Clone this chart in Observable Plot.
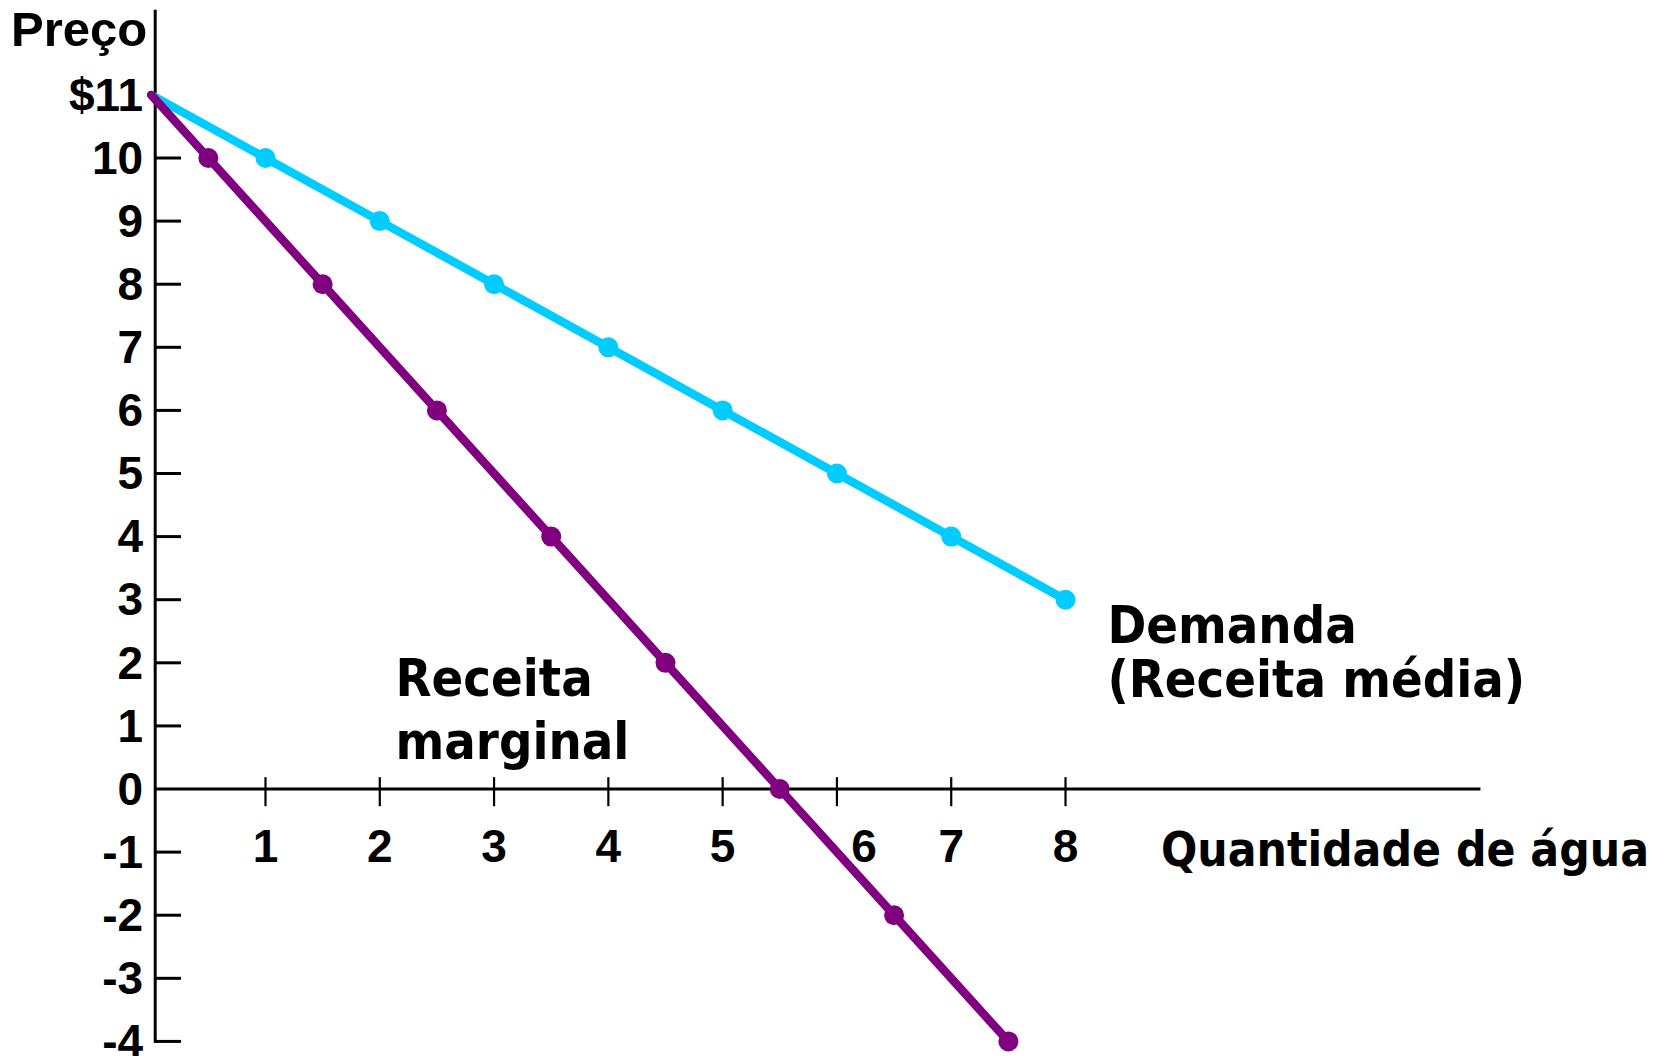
<!DOCTYPE html>
<html>
<head>
<meta charset="utf-8">
<script src="https://cdn.jsdelivr.net/npm/d3@7"></script>
<script src="https://cdn.jsdelivr.net/npm/@observablehq/plot@0.6"></script>
<style>
  html, body { margin: 0; padding: 0; background: #fff; }
  #chart svg { display: block; }
  g.condensed { font-stretch: 87.5%; }
</style>
</head>
<body>
<div id="chart"></div>
<script>
// ---- Data ----
const demandQ = [0, 1, 2, 3, 4, 5, 6, 7, 8];
const demandP = [11, 10, 9, 8, 7, 6, 5, 4, 3];
const mrQ = [0, 0.5, 1.5, 2.5, 3.5, 4.5, 5.5, 6.5, 7.5];
const mrP = [11, 10, 8, 6, 4, 2, 0, -2, -4];
const xTicks = [1, 2, 3, 4, 5, 6, 7, 8];
const yTicks = [11, 10, 9, 8, 7, 6, 5, 4, 3, 2, 1, 0, -1, -2, -3, -4];
const yTickLabels = ["$11", "10", "9", "8", "7", "6", "5", "4", "3", "2", "1", "0", "-1", "-2", "-3", "-4"];
const yAxisTitle = "Preço";
const xAxisTitle = "Quantidade de água";
const demandLabel = "Demanda\n(Receita média)";
const mrLabel = "Receita\nmarginal";

const demand = demandQ.map((q, i) => ({q, p: demandP[i]}));
const mr = mrQ.map((q, i) => ({q, p: mrP[i]}));
const yTickData = yTicks.map((v, i) => ({v, label: yTickLabels[i]}));

const CYAN = "#00CCFF";
const PURPLE = "#800080";
const ARIAL = "'Liberation Sans', Arial, sans-serif";
const TAHOMA = "'DejaVu Sans Condensed', 'DejaVu Sans', sans-serif";

const xLabelStyle = {textAnchor: "middle", lineAnchor: "bottom", dy: 73,
  fontFamily: ARIAL, fontWeight: "bold", fontSize: 46, fill: "black"};

const chart = Plot.plot({
  width: 1664,
  height: 1056,
  margin: 0,
  x: {domain: [-1.3186, 13.241], axis: null},
  y: {domain: [-4.239, 12.496], axis: null},
  marks: [
    // axes
    Plot.ruleX([0], {y1: -4.03, y2: 12.34, dx: 4, stroke: "black", strokeWidth: 3}),
    Plot.ruleY([0], {x1: 0, x2: 11.6, dx: 4, stroke: "black", strokeWidth: 3}),
    Plot.ruleY(yTicks.filter(v => v !== 11 && v !== 0), {x1: 0, x2: 0.23, dx: 4, stroke: "black", strokeWidth: 3}),
    Plot.ruleX(xTicks, {y1: 0.18, y2: -0.28, stroke: "black", strokeWidth: 2.2}),
    // y tick labels
    Plot.text(yTickData, {x: 0, y: "v", text: "label", textAnchor: "end", lineAnchor: "middle", dx: -8, dy: 1,
      fontFamily: ARIAL, fontWeight: "bold", fontSize: 46, fill: "black"}),
    // x tick labels (the "6" sits a little to the right of its tick, clear of the line)
    Plot.text(xTicks.filter(d => d !== 6), {x: d => d, y: 0, text: d => String(d), ...xLabelStyle}),
    Plot.text(xTicks.filter(d => d === 6), {x: d => d, y: 0, text: d => String(d), dx: 27, ...xLabelStyle}),
    // axis titles
    Plot.text([yAxisTitle], {x: 0, y: 12.496, text: d => d, textAnchor: "end", lineAnchor: "bottom", dx: -4, dy: 45,
      fontFamily: ARIAL, fontWeight: "bold", fontSize: 49, fill: "black"}),
    Plot.text([xAxisTitle], {x: 8.835, y: 0, text: d => d, textAnchor: "start", lineAnchor: "bottom", dy: 77,
      fontFamily: TAHOMA, fontWeight: "bold", fontSize: 47.5, fill: "black", className: "condensed"}),
    // series
    Plot.line(demand, {x: "q", y: "p", stroke: CYAN, strokeWidth: 8.5}),
    Plot.dot(demand.slice(1), {x: "q", y: "p", r: 10, fill: CYAN}),
    Plot.line(mr, {x: "q", y: "p", stroke: PURPLE, strokeWidth: 8.5}),
    Plot.dot(mr.slice(1), {x: "q", y: "p", r: 10, fill: PURPLE}),
    // labels
    Plot.text([mrLabel], {x: 2.138, y: 0.483, text: d => d, textAnchor: "start", lineAnchor: "bottom", lineHeight: 1.21,
      fontFamily: TAHOMA, fontWeight: "bold", fontSize: 52, fill: "black", className: "condensed"}),
    Plot.text([demandLabel], {x: 8.367, y: 1.466, text: d => d, textAnchor: "start", lineAnchor: "bottom", lineHeight: 1.02,
      fontFamily: TAHOMA, fontWeight: "bold", fontSize: 52, fill: "black", className: "condensed"})
  ]
});
document.getElementById("chart").appendChild(chart);
</script>
</body>
</html>
